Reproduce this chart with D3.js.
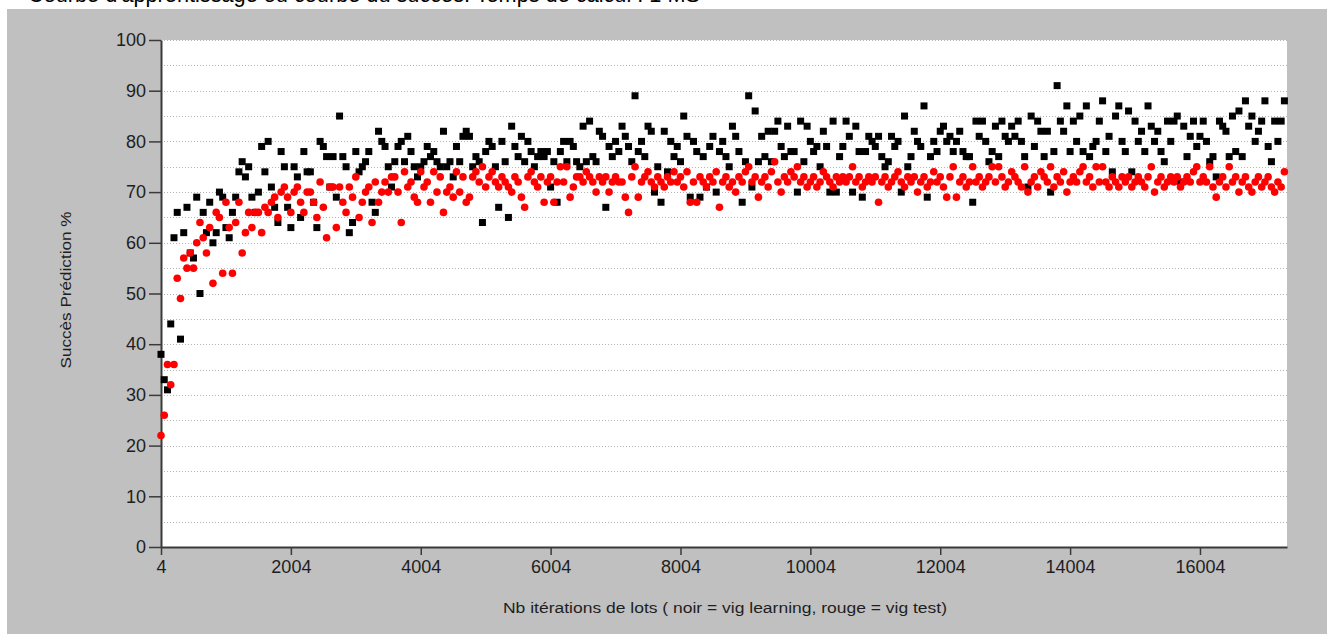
<!DOCTYPE html>
<html>
<head>
<meta charset="utf-8">
<script src="https://cdn.jsdelivr.net/npm/d3@7"></script>
<style>
  html, body { margin: 0; padding: 0; background: #ffffff; }
  svg { display: block; }
</style>
</head>
<body>
<div id="chart"></div>
<script>
(function () {

  'use strict';

  const FONT_FAMILY = '"Liberation Sans", Arial, sans-serif';
  const WIDTH = 1327;
  const HEIGHT = 634;

  // Iterations are sampled every STEP lots, starting at lot 4.
  const X_START = 4;
  const X_END = 17344;
  const STEP = 50;

  const Y_TICKS = [0, 10, 20, 30, 40, 50, 60, 70, 80, 90, 100];
  const X_TICKS = [4, 2004, 4004, 6004, 8004, 10004, 12004, 14004, 16004];

  const TITLE = 'Courbe d\'apprentissage ou courbe du succès. Temps de calcul : 1 MS';
  const Y_TITLE = 'Succès Prédiction %';
  const X_TITLE = 'Nb itérations de lots ( noir = vig learning, rouge = vig test)';

  // Success on the learning set (black squares).
  const learning = [
    38, 33, 31, 44, 61, 66, 41, 62, 67, 58,
    57, 69, 50, 66, 62, 68, 60, 62, 70, 69,
    63, 61, 66, 69, 74, 76, 73, 75, 69, 66,
    70, 79, 74, 80, 71, 67, 64, 78, 75, 67,
    63, 75, 73, 65, 78, 74, 74, 68, 63, 80,
    79, 77, 71, 77, 69, 85, 77, 75, 62, 64,
    78, 74, 75, 76, 78, 68, 66, 82, 80, 79,
    75, 71, 76, 79, 80, 76, 81, 78, 75, 73,
    75, 76, 79, 77, 78, 76, 75, 82, 75, 76,
    73, 79, 76, 81, 82, 81, 75, 77, 76, 64,
    78, 80, 79, 75, 67, 80, 76, 65, 83, 79,
    77, 81, 76, 80, 78, 75, 77, 78, 77, 78,
    71, 76, 68, 78, 80, 76, 80, 79, 76, 75,
    83, 76, 84, 77, 76, 82, 81, 67, 79, 77,
    80, 78, 83, 81, 79, 76, 89, 78, 80, 77,
    83, 82, 70, 75, 68, 82, 74, 80, 77, 79,
    76, 85, 81, 69, 80, 78, 69, 77, 71, 79,
    81, 70, 78, 80, 77, 75, 83, 81, 78, 68,
    76, 89, 71, 86, 76, 81, 77, 82, 76, 82,
    84, 79, 77, 83, 78, 78, 70, 84, 76, 83,
    80, 78, 79, 75, 82, 79, 70, 84, 70, 77,
    79, 84, 81, 70, 83, 78, 69, 78, 81, 80,
    79, 81, 77, 75, 76, 81, 79, 80, 70, 85,
    75, 77, 82, 80, 79, 87, 69, 77, 80, 78,
    82, 83, 80, 81, 78, 80, 82, 78, 77, 77,
    68, 84, 81, 84, 80, 76, 78, 83, 77, 84,
    81, 80, 83, 81, 84, 80, 77, 71, 85, 79,
    84, 82, 77, 82, 70, 78, 91, 84, 82, 87,
    78, 84, 80, 85, 78, 87, 77, 79, 80, 84,
    88, 78, 81, 74, 85, 87, 80, 78, 86, 74,
    84, 80, 82, 78, 87, 83, 80, 82, 78, 76,
    84, 80, 84, 85, 72, 83, 77, 81, 84, 79,
    81, 84, 80, 76, 77, 73, 84, 83, 82, 77,
    85, 78, 86, 77, 88, 83, 85, 80, 82, 84,
    88, 79, 76, 84, 80, 84, 88
  ];

  // Success on the test set (red dots).
  const test = [
    22, 26, 36, 32, 36, 53, 49, 57, 55, 58,
    55, 60, 64, 61, 58, 63, 52, 66, 65, 54,
    68, 63, 54, 64, 68, 58, 62, 66, 63, 66,
    66, 62, 67, 66, 68, 69, 65, 70, 71, 69,
    66, 70, 71, 68, 66, 70, 70, 68, 65, 72,
    67, 61, 71, 71, 63, 71, 68, 66, 71, 69,
    73, 65, 68, 70, 71, 64, 72, 68, 70, 72,
    70, 73, 73, 70, 64, 74, 71, 72, 69, 68,
    74, 71, 72, 68, 74, 70, 73, 66, 70, 71,
    69, 74, 70, 73, 68, 69, 73, 74, 72, 75,
    71, 73, 74, 72, 71, 73, 72, 71, 70, 73,
    72, 69, 67, 73, 74, 72, 71, 73, 68, 72,
    73, 68, 72, 75, 72, 75, 69, 71, 73, 73,
    72, 74, 73, 72, 70, 73, 72, 73, 70, 72,
    73, 72, 72, 69, 66, 73, 75, 69, 72, 73,
    74, 72, 71, 73, 72, 71, 73, 72, 74, 72,
    73, 71, 74, 68, 72, 68, 73, 72, 71, 73,
    72, 74, 67, 72, 73, 71, 72, 70, 73, 72,
    74, 75, 72, 73, 69, 72, 73, 71, 74, 76,
    72, 70, 73, 72, 74, 73, 75, 72, 73, 71,
    72, 73, 71, 72, 74, 73, 72, 71, 73, 72,
    73, 72, 73, 75, 72, 73, 71, 72, 73, 72,
    73, 68, 72, 73, 71, 72, 73, 74, 72, 71,
    73, 72, 73, 70, 72, 73, 71, 72, 74, 72,
    73, 71, 69, 73, 75, 69, 72, 73, 71, 72,
    75, 72, 73, 71, 72, 73, 75, 72, 75, 73,
    71, 72, 74, 73, 72, 71, 75, 70, 72, 73,
    71, 74, 73, 72, 75, 71, 73, 72, 74, 70,
    72, 73, 72, 74, 75, 72, 73, 71, 75, 72,
    75, 72, 71, 73, 72, 71, 73, 72, 73, 71,
    72, 73, 72, 71, 73, 75, 70, 72, 73, 71,
    72, 73, 72, 73, 71, 72, 73, 72, 74, 75,
    72, 73, 72, 75, 71, 69, 72, 73, 71, 75,
    72, 73, 70, 72, 73, 71, 70, 72, 73, 71,
    72, 73, 71, 70, 72, 71, 74
  ];

  let toPoints = function (values) {
    return values.map(function (v, i) {
      return {iter: X_START + i * STEP, value: v};
    });
  };

  let margin = {top: 40, right: 40, bottom: 87, left: 161};
  let plotWidth = 1287 - margin.left;
  let plotHeight = 547 - margin.top;

  let svg = d3.select('#chart')
    .append('svg')
    .attr('width', WIDTH)
    .attr('height', HEIGHT)
    .style('font-family', FONT_FAMILY);

  // Window title, cut off at the top of the screenshot.
  svg.append('text')
    .attr('x', 28)
    .attr('y', 2)
    .attr('textLength', 672)
    .attr('lengthAdjust', 'spacingAndGlyphs')
    .style('font-size', '22px')
    .style('fill', '#000')
    .text(TITLE);

  // Grey chart background.
  svg.append('rect')
    .attr('x', 7)
    .attr('y', 9)
    .attr('width', WIDTH - 7)
    .attr('height', HEIGHT - 9)
    .style('fill', '#c0c0c0');

  let g = svg.append('g')
    .attr('transform', 'translate(' + margin.left + ',' + margin.top + ')');

  g.append('rect')
    .attr('width', plotWidth)
    .attr('height', plotHeight)
    .style('fill', '#ffffff');

  let x = d3.scaleLinear()
    .domain([X_START, X_END])
    .range([0, plotWidth]);

  let y = d3.scaleLinear()
    .domain([0, 100])
    .range([plotHeight, 0]);

  // Dotted grid lines every 5 %.
  g.append('g')
    .selectAll('line')
    .data(d3.range(5, 101, 5))
    .enter()
    .append('line')
    .attr('x1', 0)
    .attr('x2', plotWidth)
    .attr('y1', function (d) { return Math.round(y(d)) + 0.5; })
    .attr('y2', function (d) { return Math.round(y(d)) + 0.5; })
    .style('stroke', '#b4b4b4')
    .style('stroke-width', 1)
    .style('stroke-dasharray', '1,2');

  // Axes.
  let yAxis = g.append('g')
    .call(d3.axisLeft(y).tickValues(Y_TICKS).tickSize(12).tickSizeOuter(0).tickPadding(3));

  let xAxis = g.append('g')
    .attr('transform', 'translate(0,' + plotHeight + ')')
    .call(d3.axisBottom(x).tickValues(X_TICKS).tickFormat(d3.format('d')).tickSize(8).tickSizeOuter(0).tickPadding(5));

  [yAxis, xAxis].forEach(function (axis) {
    axis.selectAll('.domain')
      .style('stroke', '#3a3a3a')
      .style('stroke-width', 2);
    axis.selectAll('.tick line')
      .style('stroke', '#3a3a3a')
      .style('stroke-width', 1.5);
    axis.selectAll('.tick text')
      .style('font-family', FONT_FAMILY)
      .style('font-size', '18px')
      .style('fill', '#1e1e1e');
  });

  // Axis titles.
  svg.append('text')
    .attr('transform', 'translate(71,290) rotate(-90)')
    .attr('text-anchor', 'middle')
    .attr('textLength', 157)
    .attr('lengthAdjust', 'spacingAndGlyphs')
    .style('font-size', '14px')
    .style('fill', '#1e1e1e')
    .text(Y_TITLE);

  svg.append('text')
    .attr('x', 725)
    .attr('y', 613)
    .attr('text-anchor', 'middle')
    .attr('textLength', 444)
    .attr('lengthAdjust', 'spacingAndGlyphs')
    .style('font-size', '14px')
    .style('fill', '#1e1e1e')
    .text(X_TITLE);

  // Markers: learning squares first, test dots on top.
  g.append('g')
    .selectAll('rect')
    .data(toPoints(learning))
    .enter()
    .append('rect')
    .attr('x', function (d) { return x(d.iter) - 3.5; })
    .attr('y', function (d) { return y(d.value) - 3.5; })
    .attr('width', 7)
    .attr('height', 7)
    .style('fill', '#000000');

  g.append('g')
    .selectAll('circle')
    .data(toPoints(test))
    .enter()
    .append('circle')
    .attr('cx', function (d) { return x(d.iter); })
    .attr('cy', function (d) { return y(d.value); })
    .attr('r', 3.8)
    .style('fill', '#ff0000');

}());
</script>
</body>
</html>
